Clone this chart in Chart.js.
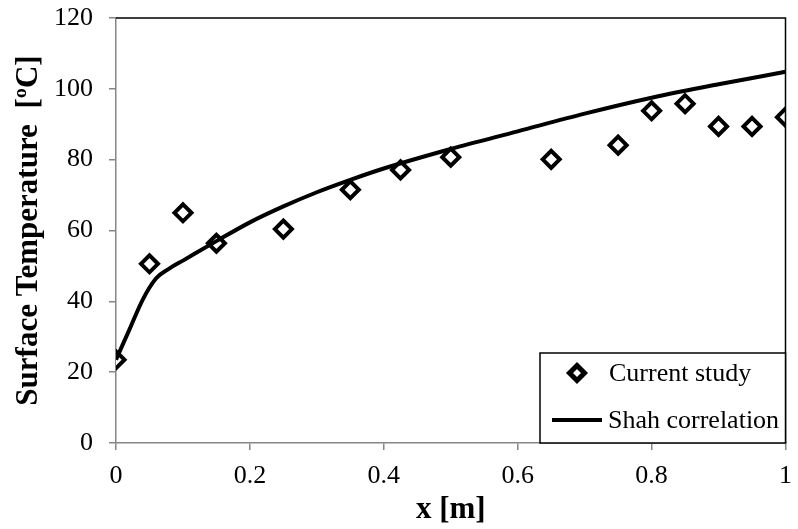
<!DOCTYPE html>
<html>
<head>
<meta charset="utf-8">
<script src="https://cdn.jsdelivr.net/npm/chart.js@4"></script>
<style>
  body { margin: 0; background: #fff; }
  #wrap { width: 798px; height: 529px; }
</style>
</head>
<body>
<div id="wrap"><canvas id="chart"></canvas></div>
<script>
// measured points (Current study)
const studyX = [0, 0.05, 0.1, 0.15, 0.25, 0.35, 0.425, 0.5, 0.65, 0.75, 0.8, 0.85, 0.9, 0.95, 1.0];
const studyY = [23.5, 50.6, 65, 56.4, 60.4, 71.5, 77.1, 80.7, 80.1, 84.1, 93.8, 95.8, 89.4, 89.4, 92];

// Shah correlation curve
const shahX = [0, 0.02, 0.04, 0.06, 0.08, 0.1, 0.15, 0.2, 0.25, 0.3, 0.35, 0.4, 0.5, 0.6, 0.7, 0.8, 0.9, 1.0];
const shahY = [23.5, 32, 40.5, 46.5, 49.3, 51.5, 57, 62.3, 66.8, 70.8, 74.3, 77.5, 83, 88, 93, 97.5, 101.3, 104.8];

const xTicks = [0, 0.2, 0.4, 0.6, 0.8, 1];
const yTicks = [0, 20, 40, 60, 80, 100, 120];

const serif = "'Liberation Serif', 'Times New Roman', serif";

// ➤ top/right frame + legend box inside plot
const framePlugin = {
    id: "frame",
    afterDraw(chart) {
        const { ctx, chartArea: a } = chart;
        ctx.save();
        ctx.strokeStyle = "#000";
        ctx.lineWidth = 1.5;
        ctx.beginPath();
        ctx.moveTo(a.left, a.top);
        ctx.lineTo(a.right, a.top);
        ctx.lineTo(a.right, a.bottom);
        ctx.stroke();

        // legend
        const bx = 540, by = 353, bw = a.right - 540, bh = a.bottom - 353;
        ctx.fillStyle = "#fff";
        ctx.fillRect(bx, by, bw, bh);
        ctx.lineWidth = 1.5;
        ctx.strokeRect(bx, by, bw, bh);

        const ds = chart.data.datasets;
        ctx.font = "26px " + serif;
        ctx.textBaseline = "middle";
        ctx.textAlign = "left";

        // row 1: diamond
        ctx.fillStyle = "#fff";
        ctx.lineWidth = 5;
        ctx.beginPath();
        ctx.moveTo(569.5, 373); ctx.lineTo(577, 365.5); ctx.lineTo(584.5, 373); ctx.lineTo(577, 380.5); ctx.closePath();
        ctx.fill(); ctx.stroke();
        ctx.fillStyle = "#000";
        ctx.fillText(ds[0].label, 609, 374);

        // row 2: line
        ctx.beginPath();
        ctx.lineWidth = 4;
        ctx.moveTo(552, 420); ctx.lineTo(602, 420);
        ctx.stroke();
        ctx.fillText(ds[1].label, 608, 421);
        ctx.restore();
    }
};

new Chart(document.getElementById("chart"), {
    type: "scatter",
    data: {
        datasets: [
            {
                label: "Current study",
                data: studyX.map((x, i) => ({ x, y: studyY[i] })),
                pointStyle: "rectRot",
                pointRadius: 8.5,
                pointBorderWidth: 4,
                pointBackgroundColor: "#fff",
                pointBorderColor: "#000",
                showLine: false,
                order: 1
            },
            {
                label: "Shah correlation",
                data: shahX.map((x, i) => ({ x, y: shahY[i] })),
                showLine: true,
                borderColor: "#000",
                borderWidth: 4,
                pointRadius: 0,
                cubicInterpolationMode: "monotone",
                order: 0
            }
        ]
    },
    options: {
        responsive: true,
        maintainAspectRatio: false,
        animation: false,
        layout: { padding: { left: 0, top: 18, right: 5, bottom: 0 } },
        plugins: {
            legend: { display: false },
            tooltip: { enabled: false }
        },
        scales: {
            x: {
                type: "linear",
                min: 0, max: 1,
                afterFit: s => { s.height = 86; s.paddingLeft = 0; s.paddingRight = 0; },
                afterBuildTicks: s => { s.ticks = xTicks.map(v => ({ value: v })); },
                grid: { drawOnChartArea: false, drawTicks: true, tickLength: 7, color: "#868686", lineWidth: 1.5 },
                border: { display: true, color: "#868686", width: 1.5 },
                ticks: {
                    color: "#000",
                    font: { family: serif, size: 26 },
                    padding: 11,
                    maxRotation: 0,
                    callback: v => String(v)
                },
                title: {
                    display: true,
                    text: "x [m]",
                    color: "#000",
                    font: { family: serif, size: 31, weight: "bold" },
                    padding: { top: 0, bottom: 0 }
                }
            },
            y: {
                min: 0, max: 120,
                afterFit: s => { s.width = 116; s.paddingTop = 0; s.paddingBottom = 0; },
                afterBuildTicks: s => { s.ticks = yTicks.map(v => ({ value: v })); },
                grid: { drawOnChartArea: false, drawTicks: true, tickLength: 7, color: "#868686", lineWidth: 1.5 },
                border: { display: true, color: "#868686", width: 1.5 },
                ticks: {
                    color: "#000",
                    font: { family: serif, size: 26 },
                    padding: 16
                },
                title: {
                    display: true,
                    text: "Surface Temperature  [ºC]",
                    color: "#000",
                    font: { family: serif, size: 31, weight: "bold" },
                    padding: { top: 10, bottom: 0 }
                }
            }
        }
    },
    plugins: [framePlugin]
});
</script>
</body>
</html>
